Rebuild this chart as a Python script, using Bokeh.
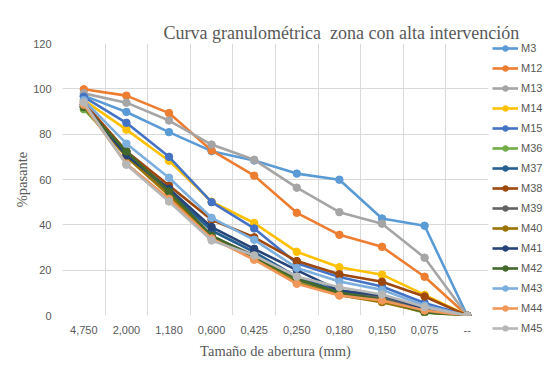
from bokeh.plotting import figure
from bokeh.models import FixedTicker, Legend, LegendItem, Range1d
from bokeh.embed import file_html
from bokeh.resources import INLINE

# Categories (sieve opening, mm)
categories = ["4,750", "2,000", "1,180", "0,600", "0,425", "0,250", "0,180", "0,150", "0,075", "--"]

# % passing per sample
M3  = [97.0, 89.8, 80.9, 72.5, 68.4, 62.6, 59.9, 42.8, 39.6, 0]
M12 = [99.8, 97.0, 89.3, 72.8, 61.7, 45.3, 35.6, 30.3, 17.1, 0]
M13 = [98.0, 93.9, 86.0, 75.4, 68.7, 56.4, 45.6, 40.5, 25.5, 0]
M14 = [95.0, 82.0, 68.3, 50.2, 40.8, 28.1, 21.3, 18.0, 9.1, 0]
M15 = [96.5, 85.0, 70.0, 50.0, 38.4, 23.0, 17.0, 12.8, 5.5, 0]
M36 = [91.0, 71.0, 54.5, 34.0, 25.5, 15.5, 9.5, 6.5, 1.2, 0]
M37 = [92.0, 72.0, 55.0, 37.5, 28.0, 17.0, 10.5, 8.5, 2.5, 0]
M38 = [94.0, 72.5, 57.3, 42.2, 34.5, 24.0, 18.2, 14.9, 8.4, 0]
M39 = [93.0, 71.0, 54.0, 35.0, 26.5, 16.0, 10.0, 8.0, 2.5, 0]
M40 = [92.0, 70.0, 53.0, 34.5, 25.0, 14.5, 9.0, 5.9, 1.5, 0]
M41 = [93.0, 70.6, 55.9, 39.0, 29.4, 20.0, 11.0, 9.0, 3.0, 0]
M42 = [92.0, 72.4, 54.7, 35.2, 26.0, 16.2, 10.0, 7.0, 1.5, 0]
M43 = [95.0, 75.8, 60.8, 43.1, 33.4, 21.0, 15.0, 11.3, 4.4, 0]
M44 = [93.0, 67.0, 51.5, 34.0, 24.6, 14.0, 8.8, 6.6, 2.2, 0]
M45 = [94.0, 66.5, 50.3, 33.1, 26.5, 17.2, 12.5, 9.3, 3.7, 0]

series_names = ["M3", "M12", "M13", "M14", "M15", "M36", "M37", "M38", "M39",
                "M40", "M41", "M42", "M43", "M44", "M45"]
series_values = [M3, M12, M13, M14, M15, M36, M37, M38, M39, M40, M41, M42, M43, M44, M45]
series_colors = ["#5B9BD5", "#ED7D31", "#A5A5A5", "#FFC000", "#4472C4", "#70AD47",
                 "#255E91", "#9E480E", "#636363", "#997300", "#264478", "#43682B",
                 "#7CAFDD", "#F1975A", "#B7B7B7"]

x_pos = [i + 0.5 for i in range(len(categories))]

p = figure(frame_width=426, frame_height=272, output_backend="svg", toolbar_location=None,
           x_range=Range1d(0, len(categories)), y_range=Range1d(0, 120),
           min_border_left=62, min_border_right=58, min_border_top=43,
           min_border_bottom=40)

p.outline_line_color = None
p.background_fill_color = "white"
p.border_fill_color = "white"

p.title.text = "Curva granulométrica\u00a0 zona con alta intervención"
p.title.text_font = "Liberation Serif"
p.title.text_font_size = "18px"
p.title.text_font_style = "normal"
p.title.text_color = "#595959"
p.title.align = "left"
p.title.offset = 101
p.title.standoff = 2

# axes
p.xaxis.ticker = FixedTicker(ticks=x_pos)
p.xaxis.major_label_overrides = {x: c for x, c in zip(x_pos, categories)}
p.yaxis.ticker = FixedTicker(ticks=[0, 20, 40, 60, 80, 100, 120])
for ax in (p.xaxis[0], p.yaxis[0]):
    ax.axis_line_color = None
    ax.major_tick_line_color = None
    ax.minor_tick_line_color = None
    ax.major_label_text_font = "Liberation Sans"
    ax.major_label_text_font_size = "11px"
    ax.major_label_text_color = "#595959"
    ax.axis_label_text_font = "Liberation Serif"
    ax.axis_label_text_font_size = "14.5px"
    ax.axis_label_text_font_style = "normal"
    ax.axis_label_text_color = "#595959"
p.xaxis.axis_label = "Tamaño de abertura (mm)"
p.yaxis.axis_label = "%pasante"
p.xaxis.major_label_standoff = 4
p.yaxis.major_label_standoff = 5
p.xaxis.axis_label_standoff = 6
p.yaxis.axis_label_standoff = 0

p.xgrid.ticker = FixedTicker(ticks=list(range(len(categories) + 1)))
p.xgrid.grid_line_color = "#D9D9D9"
p.ygrid.grid_line_color = "#D9D9D9"

items = []
for name, vals, col in zip(series_names, series_values, series_colors):
    ln = p.line(x_pos, vals, line_color=col, line_width=2.6)
    sc = p.scatter(x_pos, vals, size=7.5, fill_color=col, line_color=col)
    items.append(LegendItem(label=name, renderers=[ln, sc]))

legend = Legend(items=items, location=(4, -20), border_line_color=None,
                background_fill_alpha=0, label_text_font="Liberation Sans",
                label_text_font_size="11px", label_text_color="#595959",
                glyph_width=26, glyph_height=14, label_height=14, spacing=6,
                padding=0, margin=0, label_standoff=3)
p.add_layout(legend, "right")

open("out.html", "w").write(file_html(p, INLINE))
